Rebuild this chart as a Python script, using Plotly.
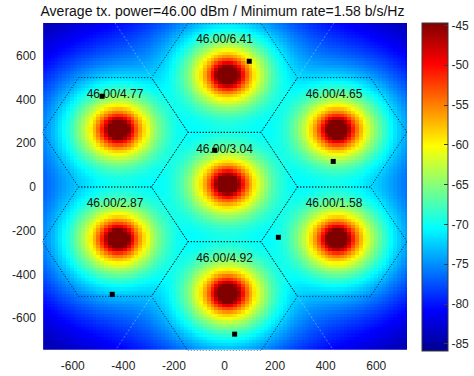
import numpy as np
import plotly.graph_objects as go

# ---- data ----
TITLE = "Average tx. power=46.00 dBm / Minimum rate=1.58 b/s/Hz"
BS_X = [0.0, 0.0, 433.0, 433.0, 0.0, -433.0, -433.0]
BS_Y = [0.0, 500.0, 250.0, -250.0, -500.0, -250.0, 250.0]
TX_POWER = [46.00, 46.00, 46.00, 46.00, 46.00, 46.00, 46.00]
RATE = [3.04, 6.41, 4.65, 1.58, 4.92, 2.87, 4.77]
UE_X = [-39, 98, 430, 213, 40, -444, -484]
UE_Y = [168, 575, 117, -230, -673, -491, 415]
X_TICKS = [-600, -400, -200, 0, 200, 400, 600]
Y_TICKS = [-600, -400, -200, 0, 200, 400, 600]
CB_TICKS = [-85, -80, -75, -70, -65, -60, -55, -50, -45]

# path-loss model parameters (3GPP-like)
PL_A, PL_B, EXTRA_LOSS, BS_H = 128.1, 37.6, 13.7, 10.0
Z_MIN, Z_MAX = -85.9, -44.7

HEX_R = 500 / np.sqrt(3)
X_MAX = 433.0 + HEX_R
Y_MAX = 750.0

# ---- received power field (sum over base stations) ----
gx = np.linspace(-X_MAX, X_MAX, 97)
gy = np.linspace(-Y_MAX, Y_MAX, 101)
XX, YY = np.meshgrid(gx, gy)
tot = np.zeros_like(XX)
for bx, by, pt in zip(BS_X, BS_Y, TX_POWER):
    d = np.sqrt((XX - bx) ** 2 + (YY - by) ** 2 + BS_H ** 2)
    p = pt - (PL_A + PL_B * np.log10(d / 1000.0)) - EXTRA_LOSS
    tot += 10 ** (p / 10)
Z = 10 * np.log10(tot)

jet = [[0.0, "#00008f"], [0.125, "#0000ff"], [0.375, "#00ffff"],
       [0.625, "#ffff00"], [0.875, "#ff0000"], [1.0, "#800000"]]

W, H = 474, 376
ML, MR, MT, MB = 42, 67, 23, 25
PW = W - ML - MR

FONT = "Liberation Sans, Arial, sans-serif"
TICKC = "#262626"
fig = go.Figure()
dx = gx[1] - gx[0]
dy = gy[1] - gy[0]
fig.add_trace(go.Heatmap(
    x=gx + dx * 0.8, y=gy + dy * 0.8, z=Z, zmin=Z_MIN, zmax=Z_MAX,
    colorscale=jet, zsmooth=False, hoverinfo="skip",
    colorbar=dict(
        x=(421.7 - ML) / PW, xanchor="left", y=0.5, yanchor="middle",
        thickness=26, thicknessmode="pixels", len=1.0, lenmode="fraction",
        xpad=0, ypad=0, outlinewidth=1, outlinecolor="#3a3a3a",
        ticks="inside", ticklen=4, tickcolor="#3a3a3a",
        tickvals=CB_TICKS, ticktext=[str(v) for v in CB_TICKS],
        tickfont=dict(family=FONT, size=12, color=TICKC),
    ),
))

# hexagon borders
hx, hy = [], []
ang = np.deg2rad(np.arange(0, 361, 60))
for cx, cy in zip(BS_X, BS_Y):
    hx += list(cx + HEX_R * np.cos(ang)) + [None]
    hy += list(cy + HEX_R * np.sin(ang)) + [None]
fig.add_trace(go.Scatter(x=hx, y=hy, mode="lines", hoverinfo="skip",
                         line=dict(color="#111111", width=1, dash="1px,2px")))

# faint white sector lines
fx, fy = [], []
for sx, sy in [(-1, 1), (1, 1), (1, -1), (-1, -1)]:
    fx += [sx * HEX_R, sx * (HEX_R + 250 / np.sqrt(3)), None]
    fy += [sy * 500, sy * 750, None]
fig.add_trace(go.Scatter(x=fx, y=fy, mode="lines", hoverinfo="skip",
                         line=dict(color="rgba(255,255,255,0.35)", width=1, dash="2px,2px")))

# labels
fig.add_trace(go.Scatter(
    x=BS_X, y=[v + 170 for v in BS_Y], mode="text",
    text=[f"{p:.2f}/{r:.2f}" for p, r in zip(TX_POWER, RATE)],
    textfont=dict(family=FONT, size=12, color="#111111"), hoverinfo="skip"))

# users
fig.add_trace(go.Scatter(x=UE_X, y=UE_Y, mode="markers",
                         marker=dict(symbol="square", size=5, color="black"),
                         hoverinfo="skip"))

fig.update_layout(
    width=W, height=H, showlegend=False,
    paper_bgcolor="white", plot_bgcolor="white",
    margin=dict(l=ML, r=MR, t=MT, b=MB, autoexpand=False),
    font=dict(family=FONT, size=12, color=TICKC),
    title=dict(text=TITLE, x=222.5 / W, xanchor="center", xref="container",
               y=1 - 11.5 / H, yanchor="middle", yref="container",
               font=dict(family=FONT, size=14, color="#111111")),
    xaxis=dict(range=[-X_MAX, X_MAX], tickvals=X_TICKS,
               ticktext=[str(v) for v in X_TICKS], showgrid=False,
               zeroline=False, ticks="", ticklabelstandoff=6, automargin=False,
               tickfont=dict(family=FONT, size=12, color=TICKC)),
    yaxis=dict(range=[-Y_MAX, Y_MAX], tickvals=Y_TICKS,
               ticktext=[str(v) for v in Y_TICKS], showgrid=False,
               zeroline=False, ticks="", ticklabelstandoff=5, automargin=False,
               tickfont=dict(family=FONT, size=12, color=TICKC)),
)
fig.write_html("out.html", config={"displayModeBar": False, "staticPlot": True},
               post_script="document.body.style.margin='0';document.body.style.overflow='hidden';")
